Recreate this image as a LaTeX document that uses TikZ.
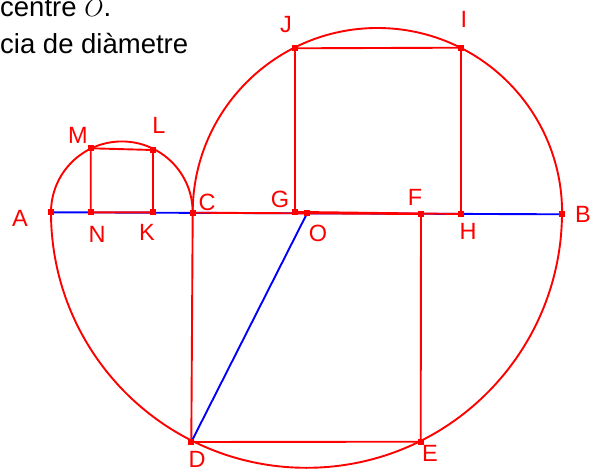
\documentclass[tikz,border=0pt]{standalone}
\usepackage{fontspec}
\setmainfont{Liberation Sans}
\begin{document}
\begin{tikzpicture}[x=1pt,y=1pt,
  redl/.style={draw=red, line width=1.9pt},
  bluel/.style={draw=blue, line width=1.9pt},
  ptmark/.style={rectangle, fill=red, minimum size=6pt, inner sep=0pt},
  lbl/.style={text=red, font=\fontsize{23.5}{23.5}\selectfont, inner sep=0pt},
  toptext/.style={anchor=base west, inner sep=0pt, font=\fontsize{27.5}{27.5}\selectfont}]
\useasboundingbox (0,0) rectangle (602,-470);
% points
\coordinate (A) at (51,-212.3);
\coordinate (B) at (562,-214.3);
\coordinate (C) at (192.7,-212.7);
\coordinate (O) at (307,-213.5);
\coordinate (D) at (191.3,-442);
\coordinate (E) at (420.7,-441.7);
\coordinate (F) at (421,-214);
\coordinate (G) at (295,-211.9);
\coordinate (H) at (461,-214);
\coordinate (I) at (461,-47.7);
\coordinate (J) at (295,-48.3);
\coordinate (K) at (153,-212.4);
\coordinate (L) at (153,-150);
\coordinate (M) at (90.7,-148.3);
\coordinate (N) at (90.7,-212.3);
% text
\node[toptext] (t1) at (0,-17) {centre $O$.};
\node[toptext] (t2) at (0,-53.3) {cia de diàmetre};
% blue diameter
\draw[bluel] (A) -- (B);
% arcs
\draw[redl] (A) arc[start angle=180, end angle=0, radius=70.85];
\draw[redl] (C) arc[start angle=180, end angle=0, radius=184.7];
\draw[redl] (A) arc[start angle=180, end angle=360, radius=255.5];
% squares
\draw[redl] (N) -- (K) -- (L) -- (M) -- cycle;
\draw[redl] (C) -- (D) -- (E) -- (F) -- cycle;
\draw[redl] (G) -- (H) -- (I) -- (J) -- cycle;
% blue radius
\draw[bluel] (O) -- (D);
% markers
\foreach \p in {A,B,C,D,E,F,G,H,I,J,K,L,M,N,O}
  \node[ptmark] (m\p) at (\p) {};
% labels
\node[lbl] (lA) at (20,-218) {A};
\node[lbl] (lB) at (583,-214) {B};
\node[lbl] (lC) at (207,-202) {C};
\node[lbl] (lD) at (197,-459) {D};
\node[lbl] (lE) at (430,-453) {E};
\node[lbl] (lF) at (415,-197) {F};
\node[lbl] (lG) at (280,-199) {G};
\node[lbl] (lH) at (468,-231) {H};
\node[lbl] (lI) at (464,-19) {I};
\node[lbl] (lJ) at (286,-25) {J};
\node[lbl] (lK) at (147,-232) {K};
\node[lbl] (lL) at (159,-125) {L};
\node[lbl] (lM) at (78,-135) {M};
\node[lbl] (lN) at (97,-234) {N};
\node[lbl] (lO) at (318,-233) {O};
\end{tikzpicture}
\end{document}
